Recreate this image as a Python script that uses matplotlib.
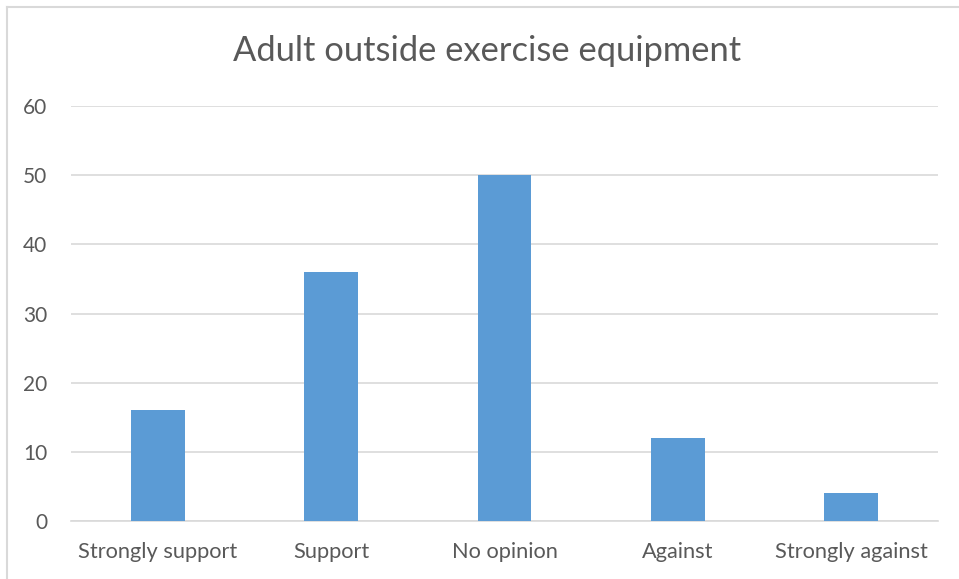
import matplotlib
matplotlib.use("Agg")
import matplotlib.pyplot as plt
from matplotlib.lines import Line2D

categories = ["Strongly support", "Support", "No opinion", "Against", "Strongly against"]
values = [16, 36, 50, 12, 4]
yticks = [0, 10, 20, 30, 40, 50, 60]
title = "Adult outside exercise equipment"

plt.rcParams['font.family'] = ['Lato', 'DejaVu Sans']
fig = plt.figure(figsize=(9.59, 5.79), dpi=100)
ax = fig.add_axes([71/959, 58/579, (938-71)/959, (521-106)/579])

x = list(range(len(categories)))
ax.bar(x, values, width=0.31, color="#5B9BD5", zorder=3)
ax.set_xlim(-0.5, len(categories) - 0.5)
ax.set_ylim(0, 60)
ax.set_yticks(yticks)
ax.set_yticklabels([str(t) for t in yticks], fontsize=15, color="#595959")
ax.set_xticks(x)
ax.set_xticklabels(categories, fontsize=15.7, color="#595959")
ax.tick_params(axis='both', length=0)
ax.tick_params(axis='y', pad=17)
ax.tick_params(axis='x', pad=15)
ax.grid(axis='y', color="#D9D9D9", linewidth=1.2, zorder=0)
for s in ["top", "right", "left"]:
    ax.spines[s].set_visible(False)
ax.spines["bottom"].set_color("#D9D9D9")
ax.spines["bottom"].set_linewidth(1.2)

fig.text(487/959, 1 - 51/579, title, ha="center", va="center", fontsize=24.8, color="#595959")

# outer chart border (left and top visible)
fig.add_artist(Line2D([7/959, 7/959], [0, 1 - 7/579], transform=fig.transFigure, color="#D9D9D9", linewidth=1.5))
fig.add_artist(Line2D([7/959, 1], [1 - 7/579, 1 - 7/579], transform=fig.transFigure, color="#D9D9D9", linewidth=1.5))

fig.savefig("out.png", dpi=100)
